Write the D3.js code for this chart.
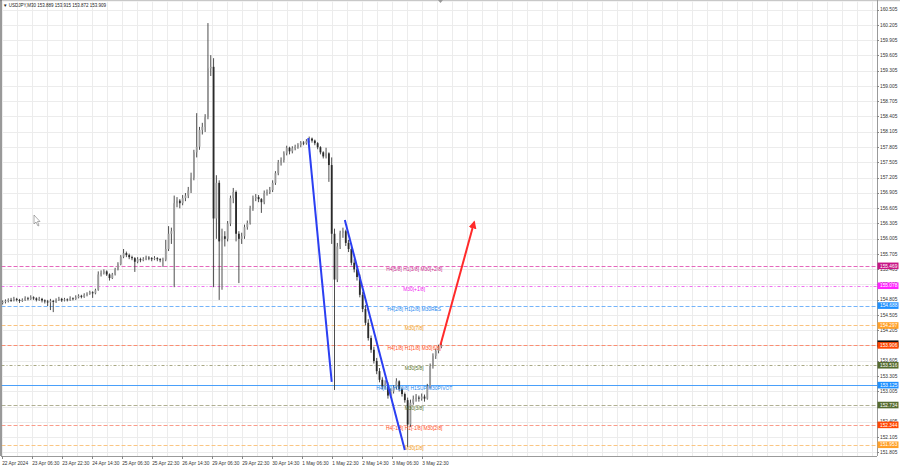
<!DOCTYPE html>
<html><head><meta charset="utf-8">
<script src="https://cdn.jsdelivr.net/npm/d3@7"></script>
<style>body{margin:0;background:#fff;overflow:hidden} svg{display:block} text{font-family:"Liberation Sans",Arial,sans-serif}</style>
</head><body><svg id="c" width="900" height="468"></svg>
<script>
// ---------------- DATA ----------------
const title = "USDJPY,M30 153.889 153.915 153.872 153.909";
const timeTickLabels = ["22 Apr 2024","23 Apr 06:30","23 Apr 22:30","24 Apr 14:30","25 Apr 06:30","25 Apr 22:30","26 Apr 14:30","29 Apr 06:30","29 Apr 22:30","30 Apr 14:30","1 May 06:30","1 May 22:30","2 May 14:30","3 May 06:30","3 May 22:30"];
const timeTickBars = [0,32,64,96,128,160,192,224,256,288,320,352,384,416,448];
const priceTicks = [160.505,160.205,159.905,159.605,159.305,159.005,158.705,158.405,158.105,157.805,157.505,157.205,156.905,156.605,156.305,156.005,155.705,155.405,155.105,154.805,154.505,154.205,153.905,153.605,153.305,153.005,152.705,152.405,152.105,151.805];
// each candle aggregates 3 M30 bars: [open, high, low, close]
const candles = [
[154.74,154.79,154.71,154.76],[154.76,154.81,154.73,154.78],[154.78,154.83,154.75,154.80],[154.80,154.84,154.76,154.79],
[154.79,154.86,154.77,154.82],[154.82,154.84,154.77,154.80],[154.80,154.82,154.74,154.78],[154.78,154.83,154.76,154.80],
[154.80,154.87,154.78,154.83],[154.83,154.86,154.79,154.82],[154.82,154.89,154.80,154.85],[154.85,154.87,154.80,154.83],
[154.83,154.85,154.77,154.80],[154.80,154.86,154.78,154.82],[154.82,154.84,154.75,154.79],[154.79,154.81,154.73,154.77],
[154.77,154.80,154.68,154.75],[154.75,154.82,154.60,154.78],[154.78,154.80,154.56,154.76],[154.76,154.83,154.74,154.80],
[154.80,154.86,154.78,154.82],[154.82,154.84,154.76,154.79],[154.79,154.84,154.77,154.81],[154.81,154.83,154.77,154.80],
[154.80,154.87,154.78,154.83],[154.83,154.85,154.79,154.82],[154.82,154.89,154.80,154.85],[154.85,154.91,154.83,154.88],
[154.88,154.90,154.83,154.86],[154.86,154.93,154.84,154.90],[154.90,154.95,154.87,154.92],[154.92,154.98,154.90,154.95],
[154.95,154.97,154.84,154.93],[154.93,155.02,154.91,154.99],[155.00,155.36,154.98,155.30],[155.30,155.38,155.26,155.33],
[155.33,155.40,155.30,155.36],[155.36,155.38,155.27,155.30],[155.30,155.32,155.18,155.23],[155.23,155.33,155.21,155.30],
[155.30,155.43,155.28,155.40],[155.40,155.54,155.38,155.50],[155.50,155.68,155.48,155.65],[155.65,155.80,155.62,155.72],
[155.72,155.75,155.64,155.68],[155.68,155.71,155.60,155.64],[155.64,155.67,155.58,155.62],[155.62,155.64,155.35,155.55],
[155.55,155.64,155.52,155.60],[155.60,155.63,155.54,155.58],[155.58,155.64,155.56,155.60],[155.60,155.67,155.58,155.63],
[155.63,155.66,155.58,155.62],[155.62,155.64,155.56,155.60],[155.60,155.66,155.58,155.62],[155.62,155.64,155.56,155.60],
[155.60,155.62,155.54,155.58],[155.58,155.63,155.45,155.59],[155.59,155.98,155.56,155.80],[155.80,156.25,155.76,156.10],
[156.10,156.22,155.90,156.15],[156.15,156.85,155.05,156.70],[156.70,156.82,156.62,156.75],[156.75,156.78,156.60,156.70],
[156.70,156.86,156.66,156.80],[156.80,156.90,156.74,156.85],[156.85,157.02,156.80,156.95],[156.95,157.30,156.90,157.20],
[157.20,157.75,157.15,157.70],[157.70,158.47,157.60,157.81],[157.81,158.20,157.75,158.14],[158.14,158.28,158.05,158.20],
[158.20,158.45,158.10,158.39],[158.39,160.24,158.35,159.35],[159.35,159.61,159.20,159.38],[159.38,159.55,155.05,156.40],
[156.40,157.25,156.00,157.10],[157.10,157.15,154.80,155.95],[155.95,156.20,155.00,156.05],[156.05,156.15,155.85,156.00],
[156.00,156.35,155.95,156.30],[156.30,156.85,156.25,156.80],[156.80,157.00,156.70,156.92],[156.92,156.95,155.95,156.10],
[156.10,156.15,155.13,156.00],[156.00,156.12,155.90,156.05],[156.05,156.28,156.00,156.23],[156.23,156.36,156.18,156.31],
[156.31,156.65,156.28,156.60],[156.60,156.85,156.55,156.80],[156.80,156.88,156.74,156.82],[156.82,156.86,156.72,156.78],
[156.78,156.80,156.51,156.72],[156.72,156.95,156.68,156.90],[156.90,156.97,156.85,156.92],[156.92,157.02,156.88,156.96],
[156.96,157.15,156.92,157.10],[157.10,157.33,157.06,157.29],[157.29,157.55,157.25,157.50],[157.50,157.60,157.44,157.55],
[157.55,157.72,157.50,157.68],[157.68,157.83,157.64,157.79],[157.79,157.81,157.66,157.72],[157.72,157.82,157.68,157.78],
[157.78,157.85,157.74,157.81],[157.81,157.88,157.77,157.84],[157.84,157.92,157.80,157.89],[157.89,157.92,157.84,157.88],
[157.88,157.96,157.85,157.92],[157.92,158.01,157.89,157.97],[157.97,157.99,157.89,157.93],[157.93,157.95,157.84,157.88],
[157.88,157.90,157.76,157.80],[157.80,157.82,157.66,157.70],[157.70,157.72,157.58,157.62],[157.62,157.79,157.58,157.68],
[157.68,157.70,157.12,157.45],[157.45,157.60,155.90,156.10],[156.10,156.20,153.03,155.20],[155.20,155.92,155.15,155.85],
[155.85,156.16,155.80,156.12],[156.12,156.22,156.02,156.15],[156.15,156.18,155.86,155.92],[155.92,155.98,155.74,155.80],
[155.80,155.84,155.48,155.53],[155.53,155.60,155.34,155.40],[155.40,155.45,155.18,155.25],[155.25,155.30,154.85,154.90],
[154.90,154.96,154.56,154.62],[154.62,154.70,154.30,154.35],[154.35,154.42,154.00,154.05],[154.05,154.10,153.76,153.82],
[153.82,153.88,153.55,153.60],[153.60,153.66,153.34,153.40],[153.40,153.46,153.18,153.23],[153.23,153.28,153.04,153.10],
[153.10,153.22,153.05,153.14],[153.14,153.18,152.86,152.92],[152.92,153.06,152.88,153.00],[153.00,153.12,152.96,153.08],
[153.08,153.26,153.04,153.20],[153.20,153.22,153.00,153.05],[153.05,153.08,152.90,152.95],[152.95,152.98,152.78,152.83],
[152.83,152.88,151.91,152.35],[152.35,152.84,152.30,152.78],[152.78,152.92,152.74,152.85],[152.85,152.95,152.80,152.88],
[152.88,152.92,152.80,152.86],[152.86,152.96,152.82,152.90],[152.90,152.94,152.80,152.86],[152.86,153.15,152.84,153.10],
[153.10,153.55,153.06,153.50],[153.50,153.75,153.45,153.70],[153.70,153.84,153.64,153.80],[153.80,153.92,153.75,153.88],
[153.88,153.95,153.85,153.91]
];
const barsPerCandle = 3;
const levelPrices = [155.469,155.078,154.688,154.297,153.906,153.516,153.125,152.734,152.344,151.953];
const levelLabels = ["H4[5/8] H1[3/8] M30[+2/8]","M30[+1/8]","H4[2/8] H1[2/8] M30RES","M30[7/8]","H4[1/8] H1[1/8] M30[6/8]","M30[5/8]","H4[0/8] H1[0/8] H1SUP M30PIVOT","M30[3/8]","H4[-1/8] H1[-1/8] M30[2/8]","M30[1/8]"];
const levelBoxText = ["155.469","155.078","154.688","154.297","153.906","153.516","153.125","152.734","152.344","151.953"];
const trendLines = [[327,157.98,352,153.19],[366,156.37,430,151.85]]; // [bar1, price1, bar2, price2]
const forecastArrow = [468,153.915,504,156.33];
const lastPrice = 153.909;

// ---------------- DRAW ----------------
const W = 900, H = 468;
const plotL = 1.5, plotR = 877, plotT = 1.5, plotB = 456;
const svg = d3.select("#c");
const x = d3.scaleLinear().domain([0, 32]).range([1.7, 31.7]);
const y = d3.scaleLinear().domain([151.805, 160.505]).range([452.3, 9.6]);

const defs = svg.append("defs");
defs.append("clipPath").attr("id","clip")
  .append("rect").attr("x",plotL).attr("y",plotT).attr("width",plotR-plotL).attr("height",plotB-plotT);
defs.append("marker").attr("id","arrowR").attr("viewBox","0 0 10 10")
  .attr("refX",8).attr("refY",5).attr("markerWidth",4).attr("markerHeight",4).attr("orient","auto")
  .append("path").attr("d","M0,0 L10,5 L0,10 Z").attr("fill","#ff2a2a");

const g = svg.append("g").attr("clip-path","url(#clip)");

// grid
const vGrid = d3.range(0, 940, 16);
g.append("g").attr("class","vgrid").selectAll("line").data(vGrid).enter().append("line")
  .attr("x1",d=>Math.round(x(d))+0.5).attr("x2",d=>Math.round(x(d))+0.5).attr("y1",plotT).attr("y2",plotB)
  .attr("stroke","#ececec").attr("stroke-width",1);
g.append("g").attr("class","hgrid").selectAll("line").data(priceTicks).enter().append("line")
  .attr("y1",d=>Math.round(y(d))+0.5).attr("y2",d=>Math.round(y(d))+0.5).attr("x1",plotL).attr("x2",plotR)
  .attr("stroke","#ececec").attr("stroke-width",1);

// level lines
const lvlLine = ["#e468bc","#f070f0","#74b4fa","#fac27e","#fa8e72","#a8a884","#4aa0fa","#b0b094","#fa9c8a","#fac684"];
const lvlDash = ["4,2","3,2,1,2","4,2","4,2","4,2","3,2,1,2",null,"4,2","4,2","4,2"];
const lvlText = ["#c8288c","#f020f0","#1e88f0","#f09a20","#ff4e20","#56702a","#1e88f0","#56702a","#ff4e20","#f09a20"];
const lvlBox = ["#c71585","#ff22ff","#1e90ff","#ffa028","#ff4500","#556b2f","#1e90ff","#556b2f","#ff4500","#ffa028"];
g.append("g").attr("class","levels").selectAll("line").data(levelPrices).enter().append("line")
  .attr("x1",plotL).attr("x2",plotR)
  .attr("y1",d=>Math.round(y(d))+0.5).attr("y2",d=>Math.round(y(d))+0.5)
  .attr("stroke",(d,i)=>lvlLine[i]).attr("stroke-width",1)
  .attr("stroke-dasharray",(d,i)=>lvlDash[i]);

// candles
const cx = (i)=> x(i*barsPerCandle + 1);
const cg = g.append("g").attr("class","candles");
cg.selectAll("line").data(candles).enter().append("line")
  .attr("x1",(d,i)=>cx(i)).attr("x2",(d,i)=>cx(i))
  .attr("y1",d=>y(d[1])).attr("y2",d=>y(d[2]))
  .attr("stroke","#3a3a3a").attr("stroke-width",0.9);
cg.selectAll("rect").data(candles).enter().append("rect")
  .attr("x",(d,i)=>cx(i)-0.9).attr("width",1.8)
  .attr("y",d=>y(Math.max(d[0],d[3])))
  .attr("height",d=>Math.max(0.8, Math.abs(y(d[0])-y(d[3]))))
  .attr("fill",d=>d[3]>=d[0]?"#9a9a9a":"#2a2a2a");

// level labels on chart
g.append("g").attr("class","lvltext").selectAll("text").data(levelPrices).enter().append("text")
  .attr("x",x(440)).attr("y",d=>y(d)+5)
  .attr("text-anchor","middle").attr("font-size",4.9)
  .attr("fill",(d,i)=>lvlText[i]).text((d,i)=>levelLabels[i]);

// trend lines
g.append("g").attr("class","trend").selectAll("line").data(trendLines).enter().append("line")
  .attr("x1",d=>x(d[0])).attr("y1",d=>y(d[1])).attr("x2",d=>x(d[2])).attr("y2",d=>y(d[3]))
  .attr("stroke","#2b3ff2").attr("stroke-width",2);
g.append("line")
  .attr("x1",x(forecastArrow[0])).attr("y1",y(forecastArrow[1]))
  .attr("x2",x(forecastArrow[2])).attr("y2",y(forecastArrow[3]))
  .attr("stroke","#ff2a2a").attr("stroke-width",2).attr("marker-end","url(#arrowR)");

// cursor
g.append("path").attr("d","M34,215 L34,224 L36,222 L38,226 L39,225.5 L37.5,221.5 L40,221.5 Z")
  .attr("fill","#fff").attr("stroke","#777").attr("stroke-width",0.6);

// frame
svg.append("rect").attr("x",0).attr("y",0).attr("width",W).attr("height",1.2).attr("fill","#c8c8c8");
svg.append("line").attr("x1",1).attr("x2",1).attr("y1",0).attr("y2",plotB).attr("stroke","#555").attr("stroke-width",1.2);
svg.append("line").attr("x1",plotR+0.5).attr("x2",plotR+0.5).attr("y1",0).attr("y2",plotB).attr("stroke","#9a9a9a");
svg.append("line").attr("x1",1).attr("x2",plotR).attr("y1",plotB+0.5).attr("y2",plotB+0.5).attr("stroke","#9a9a9a");
svg.append("path").attr("d",`M${x(468)-2.5},0 L${x(468)+2.5},0 L${x(468)},3 Z`).attr("fill","#999");

// title
svg.append("text").attr("x",3).attr("y",7).attr("font-size",4.5).attr("fill","#222").text("\u25BC " + title);

// price axis
const pa = svg.append("g").attr("class","paxis");
pa.selectAll("text").data(priceTicks).enter().append("text")
  .attr("x",880).attr("y",d=>y(d)+1.7).attr("font-size",4.8).attr("fill","#333")
  .text(d=>d.toFixed(3));
pa.selectAll("line").data(priceTicks).enter().append("line")
  .attr("x1",plotR).attr("x2",plotR+2).attr("y1",d=>Math.round(y(d))+0.5).attr("y2",d=>Math.round(y(d))+0.5)
  .attr("stroke","#888");
// last price box (behind) then level boxes
svg.append("rect").attr("x",plotR+0.5).attr("y",y(lastPrice)-4.8).attr("width",21).attr("height",7).attr("fill","#111");
const bx = svg.append("g").attr("class","boxes");
bx.selectAll("rect").data(levelPrices).enter().append("rect")
  .attr("x",plotR+0.5).attr("y",d=>y(d)-3.3).attr("width",21).attr("height",6.6)
  .attr("fill",(d,i)=>lvlBox[i]);
bx.selectAll("text").data(levelPrices).enter().append("text")
  .attr("x",880).attr("y",d=>y(d)+1.7).attr("font-size",4.8).attr("fill","#fff")
  .text((d,i)=>levelBoxText[i]);

// time axis
const ta = svg.append("g").attr("class","taxis");
ta.selectAll("text").data(timeTickBars).enter().append("text")
  .attr("x",(d)=>x(d)+0.5).attr("y",465).attr("font-size",4.8).attr("fill","#333")
  .text((d,i)=>timeTickLabels[i]);
ta.selectAll("line").data(timeTickBars).enter().append("line")
  .attr("x1",d=>Math.round(x(d))+0.5).attr("x2",d=>Math.round(x(d))+0.5).attr("y1",plotB).attr("y2",plotB+3)
  .attr("stroke","#888");
</script></body></html>
